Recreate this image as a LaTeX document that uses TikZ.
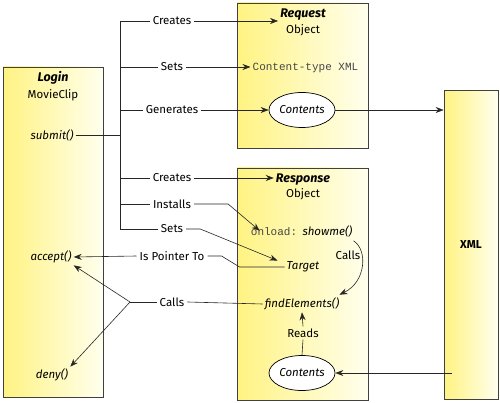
\documentclass[tikz,border=0pt]{standalone}
\usepackage{fontspec}
\setmainfont{Fira Sans}
\setmonofont{Liberation Mono}
\usetikzlibrary{arrows.meta,shapes.geometric,calc}
\definecolor{ylw}{RGB}{255,243,130}
\definecolor{ylwlight}{RGB}{255,255,238}
\definecolor{monogray}{RGB}{70,70,70}
\begin{document}
\begin{tikzpicture}[x=1pt,y=-1pt,
  font=\fontsize{11.5}{13}\selectfont,
  obj/.style={draw=black!75, line width=0.7pt, left color=ylw, right color=ylwlight, inner sep=0pt},
  lbl/.style={inner sep=3pt},
  txt/.style={inner sep=2pt},
  it/.style={font=\fontsize{11.5}{13}\selectfont\itshape},
  ttl/.style={inner sep=2pt, font=\fontsize{12.5}{14}\selectfont\bfseries\itshape},
  oval/.style={draw, ellipse, fill=white, line width=0.7pt, minimum width=66pt, minimum height=35pt, inner sep=0pt, it},
  ln/.style={draw=black!85, line width=0.6pt},
  arr/.style={ln, -{Stealth[length=8pt,width=6pt]}}
]
\useasboundingbox (0,0) rectangle (500,403);
% boxes
\node[obj, minimum width=100pt, minimum height=330pt] (login) at (53,232) {};
\node[obj, minimum width=131pt, minimum height=145pt] (req) at (302.5,75.5) {};
\node[obj, minimum width=131pt, minimum height=232pt] (resp) at (302.5,284) {};
\node[obj, minimum width=54pt, minimum height=309pt, font=\fontsize{11.5}{13}\selectfont\bfseries] (xml) at (471,245) {XML};
% login texts
\node[ttl] (logint) at (53,78) {Login};
\node[txt] (moviec) at (53,95) {MovieClip};
\node[txt, it] (submit) at (52,135) {submit()};
\node[txt, it] (accept) at (51,257) {accept()};
\node[txt, it] (deny) at (52,375) {deny()};
% request texts
\node[ttl] (reqt) at (303,15) {Request};
\node[txt] (reqo) at (303,30) {Object};
\node[txt, font=\fontsize{11}{13}\selectfont\ttfamily, text=monogray] (ctype) at (305.5,68) {Content-type XML};
\node[oval] (c1) at (302,110) {Contents};
% response texts
\node[ttl] (respt) at (303,180) {Response};
\node[txt] (respo) at (303,194) {Object};
\node[txt, inner sep=1pt, font=\fontsize{11}{13}\selectfont\ttfamily, text=monogray] (onl) at (274,232) {onload:};
\node[txt, inner sep=1pt, anchor=base west, it] (show) at ([xshift=3pt]onl.base east) {showme()};
\node[txt, it] (tgt) at (303,267) {Target};
\node[txt, it] (find) at (302,304) {findElements()};
\node[txt] (reads) at (303,333) {Reads};
\node[oval] (c2) at (302,373) {Contents};
\node[txt] (callsr) at (348,255) {Calls};
% labels
\node[lbl] (lc1) at (172,21) {Creates};
\node[lbl] (ls1) at (172,67) {Sets};
\node[lbl] (lg) at (172,110) {Generates};
\node[lbl] (lc2) at (172,178) {Creates};
\node[lbl] (li) at (172,204) {Installs};
\node[lbl] (ls2) at (172,229) {Sets};
\node[lbl] (lp) at (172,256) {Is Pointer To};
\node[lbl] (lcall) at (172,302) {Calls};
% bracket
\coordinate (br) at (120,0);
\draw[ln] (lc1.west) -- (lc1.west -| br) -- (ls2.west -| br) -- (ls2.west);
\draw[ln] (ls1.west) -- (ls1.west -| br);
\draw[ln] (lg.west) -- (lg.west -| br);
\draw[ln] (lc2.west) -- (lc2.west -| br);
\draw[ln] (li.west) -- (li.west -| br);
\draw[ln] (submit.east) -- (submit.east -| br);
% arrows to request
\draw[arr] (lc1.east) -- (lc1.east -| reqt.west);
\draw[arr] (ls1.east) -- (ls1.east -| ctype.west);
\draw[arr] (lg.east) -- (c1.west);
\draw[arr] (c1.east) -- (c1.east -| xml.west);
% arrows to response
\draw[arr] (lc2.east) -- (lc2.east -| respt.west);
\draw[arr] (li.east) -- ++(34,0) -- ([xshift=10pt,yshift=-4pt]onl.north west);
\draw[arr] (ls2.east) -- ++(14,0) -- ([xshift=-7pt,yshift=-1pt]tgt.north west);
\draw[ln] (tgt.west) -- ++(-45,0) -- ++(-18,-11) -- (lp.east);
\draw[arr] (lp.west) -- (accept.east);
\coordinate (cj) at (130,302);
\draw[ln] (lcall.east) -- (find.west);
\draw[ln] (lcall.west) -- (cj);
\draw[arr] (cj) -- (accept.south east);
\draw[arr] (cj) -- (deny.north east);
\draw[arr] ([yshift=-2pt]show.south east) .. controls (368,250) and (366,282) .. ([xshift=-2pt,yshift=1pt]find.north east);
\draw[ln] (c2.north) -- (reads.south);
\draw[arr] (reads.north) -- (find.south);
\coordinate (xin) at (452,373);
\draw[arr] (xin) -- (c2.east);
\end{tikzpicture}
\end{document}
